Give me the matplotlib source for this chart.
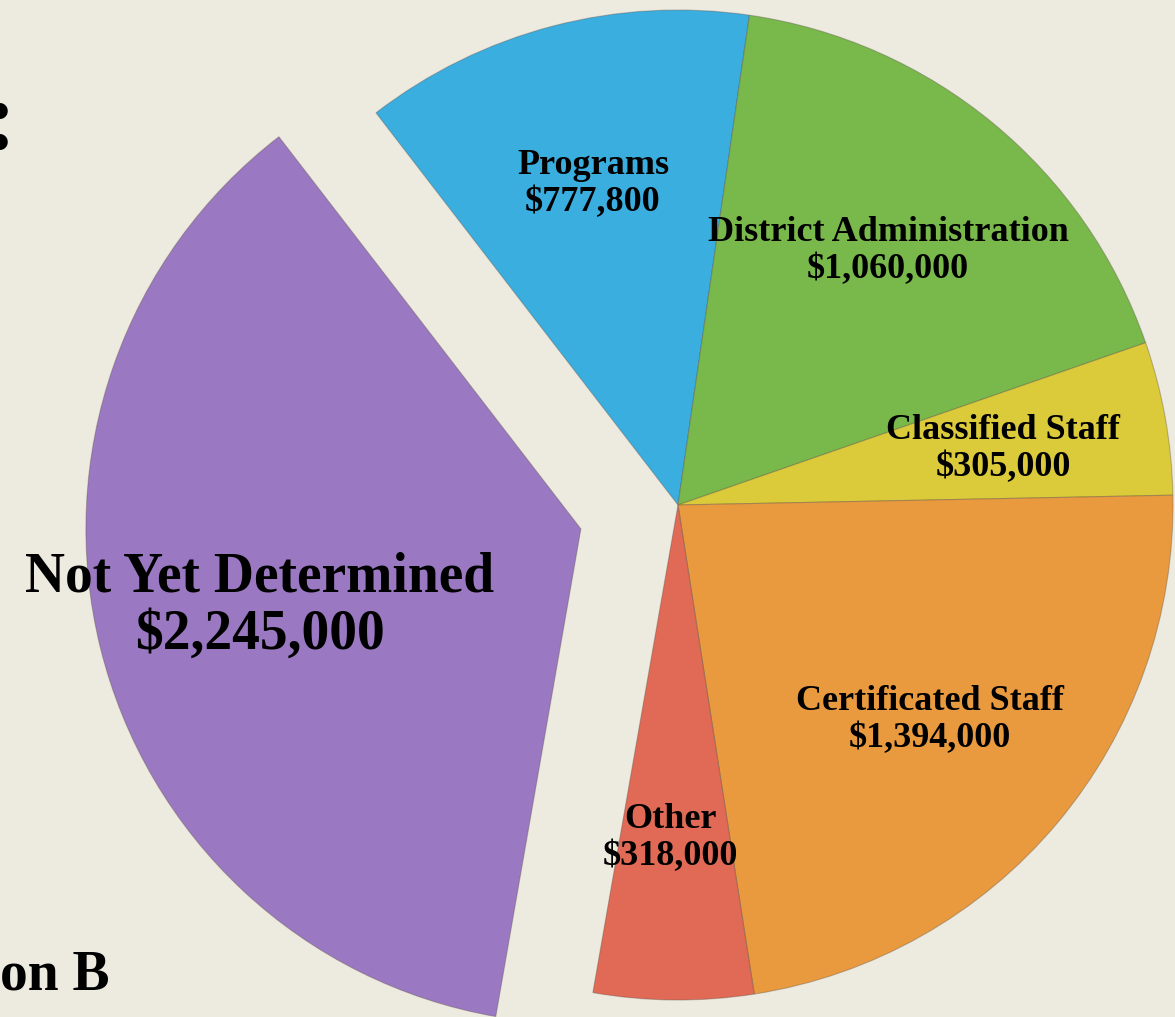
import matplotlib.pyplot as plt

# valores del grafico
categorias = ['Programs', 'District Administration', 'Classified Staff',
              'Certificated Staff', 'Other', 'Not Yet Determined']
montos = [777800, 1060000, 305000, 1394000, 318000, 2245000]
colores = ['#3BAEE0', '#79B94B', '#DBCB3A', '#E99A3F', '#E06A55', '#9A79C2']
separar = [0, 0, 0, 0, 0, 100]

# posiciones de las etiquetas (pixeles) y tamanio de letra
pos_etiquetas = [(593, 184), (888, 251), (1003, 449), (930, 720), (670, 838), (260, 606)]
tam_etiquetas = [26, 26, 26, 26, 26, 40]

W, H = 1175, 1017
fig = plt.figure(figsize=(W / 100, H / 100), dpi=100)
fig.patch.set_facecolor('#EDEAE0')
ax = fig.add_axes([0, 0, 1, 1])
ax.set_facecolor('#EDEAE0')

ax.pie(montos, colors=colores, explode=separar, startangle=127.6,
       counterclock=False, center=(678, H - 505), radius=495,
       wedgeprops=dict(edgecolor=(0.35, 0.3, 0.25, 0.35), linewidth=0.8))

for cat, m, (x, y), fs in zip(categorias, montos, pos_etiquetas, tam_etiquetas):
    ax.text(x, H - y, f'{cat}\n${m:,}', ha='center', va='center',
            fontsize=fs, fontweight='bold', family='Liberation Serif',
            linespacing=1.15, color='black')

# restos del texto de la diapositiva
ax.text(0, H - 126, ':', ha='center', va='center', fontsize=70,
        fontweight='bold', family='Liberation Serif')
ax.text(0, H - 990, 'on B', ha='left', va='baseline', fontsize=40,
        fontweight='bold', family='Liberation Serif')

ax.set_xlim(0, W)
ax.set_ylim(0, H)
ax.set_aspect('equal')
ax.axis('off')

fig.savefig('out.png', dpi=100, facecolor=fig.get_facecolor())
